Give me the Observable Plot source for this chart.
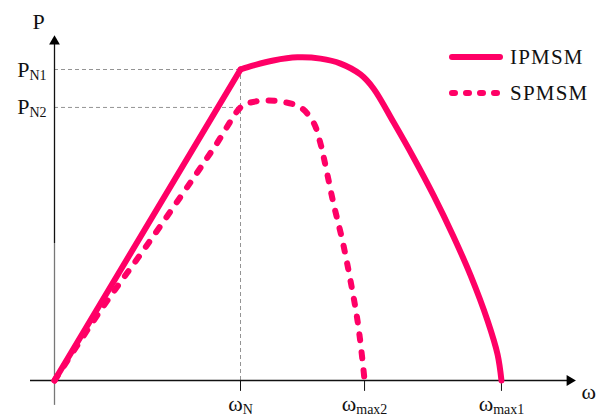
<!DOCTYPE html>
<html><head><meta charset="utf-8">
<script src="https://cdn.jsdelivr.net/npm/d3@7"></script>
<script src="https://cdn.jsdelivr.net/npm/@observablehq/plot@0.6"></script>
<style>body{margin:0;background:#fff}</style>
</head><body><div id="chart"></div>
<script>
// Speed ω (normalised, ωN = 1) and power P (normalised, PN1 = 1)
const ipmsmW = [0, 1, 1.070, 1.177, 1.306, 1.430, 1.538, 1.645, 1.715, 1.823, 1.930, 2.038, 2.145, 2.237, 2.328, 2.382, 2.403];
const ipmsmP = [0, 1, 1.013, 1.029, 1.039, 1.035, 1.019, 0.984, 0.939, 0.830, 0.717, 0.595, 0.463, 0.338, 0.193, 0.084, 0];
const spmsmW = [0, 0.247, 0.489, 0.731, 0.866, 1.0, 1.038, 1.124, 1.215, 1.323, 1.392, 1.430, 1.457, 1.500, 1.548, 1.591, 1.629, 1.656, 1.667];
const spmsmP = [0, 0.225, 0.428, 0.637, 0.756, 0.878, 0.891, 0.900, 0.897, 0.878, 0.830, 0.762, 0.691, 0.569, 0.450, 0.322, 0.193, 0.064, 0];
const seriesNames = ["IPMSM", "SPMSM"];
const xTickValues = [1, 1.667, 2.403];
const xTickLabels = ["ω_N", "ω_max2", "ω_max1"];
const yTickValues = [1, 0.878];
const yTickLabels = ["P_N1", "P_N2"];
const xAxisLabel = "ω";
const yAxisLabel = "P";

const color = "#ff0066";
const font = "'Liberation Serif', serif";
const xAxisMin = -0.129, xAxisMax = 2.77;
const yAxisMin = -0.08, yAxisMax = 1.09;
const tickLen = 0.035;

const ipmsm = ipmsmW.map((w, i) => ({w, p: ipmsmP[i]}));
const spmsm = spmsmW.map((w, i) => ({w, p: spmsmP[i]}));
const xTicks = xTickValues.map((v, i) => ({v, label: xTickLabels[i]}));
const yTicks = yTickValues.map((v, i) => ({v, label: yTickLabels[i]}));

const lineStyle = {x: "w", y: "p", stroke: color, strokeWidth: 6, strokeLinecap: "round", strokeLinejoin: "round"};

const chart = Plot.plot({
  width: 605, height: 416,
  marginTop: 0, marginRight: 0, marginBottom: 0, marginLeft: 0,
  style: {fontFamily: font, fontSize: "22px", background: "#fff", overflow: "visible"},
  x: {domain: [0, 1], range: [54, 240], axis: null},
  y: {domain: [0, 1], range: [380, 69], axis: null},
  marks: [
    // guide lines
    Plot.ruleY(yTicks, {y: "v", x1: 0, x2: xTickValues[0], stroke: "#888", strokeWidth: 0.9, strokeDasharray: "4,3"}),
    Plot.ruleX([xTickValues[0]], {y1: 0, y2: yTickValues[0], stroke: "#888", strokeWidth: 0.9, strokeDasharray: "4,3"}),
    // axes
    Plot.ruleY([0], {x1: xAxisMin, x2: xAxisMax, stroke: "#111", strokeWidth: 1.3}),
    Plot.ruleX([0], {y1: yAxisMin, y2: 0.44, stroke: "#777", strokeWidth: 1.3}),
    Plot.ruleX([0], {y1: 0.44, y2: yAxisMax, stroke: "#111", strokeWidth: 1.3}),
    Plot.dot([{x: xAxisMax, y: 0}], {x: "x", y: "y", symbol: "triangle", r: 4, fill: "#000", stroke: null, rotate: 90}),
    Plot.dot([{x: 0, y: yAxisMax}], {x: "x", y: "y", symbol: "triangle", r: 4, fill: "#000", stroke: null}),
    // x ticks
    Plot.ruleX(xTicks, {x: "v", y1: 0, y2: -tickLen, stroke: "#111", strokeWidth: 1}),
    // curves
    Plot.line(spmsm, {...lineStyle, curve: "catmull-rom", strokeDasharray: "6,12"}),
    Plot.line(ipmsm.slice(0, 2), lineStyle),
    Plot.line(ipmsm.slice(1), {...lineStyle, curve: "catmull-rom"}),
    // labels
    Plot.text(xTicks, {x: "v", y: 0, text: "label", dy: 23, fill: "#111"}),
    Plot.text(yTicks, {x: 0, y: "v", text: "label", dx: -8, textAnchor: "end", fill: "#111"}),
    Plot.text([xAxisLabel], {x: xAxisMax, y: 0, text: d => d, dx: 19, dy: 11, fill: "#111"}),
    Plot.text([yAxisLabel], {x: 0, y: yAxisMax, text: d => d, dx: -16, dy: -20, fill: "#111"})
  ]
});

// subscripts
d3.select(chart).selectAll("text").each(function() {
  const t = this.textContent;
  if (t.includes("_")) {
    const [base, sub] = t.split("_");
    const el = d3.select(this);
    el.text(null);
    el.append("tspan").text(base);
    el.append("tspan").attr("font-size", 14).attr("dy", 3).text(sub);
  }
});

// legend
const svg = d3.select(chart);
const lg = svg.append("g").attr("font-family", font).attr("font-size", 21).attr("fill", "#111").attr("text-anchor", "start");
seriesNames.forEach((name, i) => {
  const yy = 57 + i * 36;
  lg.append("line").attr("x1", 452).attr("x2", 500).attr("y1", yy).attr("y2", yy)
    .attr("stroke", color).attr("stroke-width", 6).attr("stroke-linecap", "round")
    .attr("stroke-dasharray", i === 1 ? "3,11" : null);
  lg.append("text").attr("x", 510).attr("y", yy).attr("dy", "0.35em").attr("letter-spacing", 1.2).text(name);
});

document.getElementById("chart").appendChild(chart);
</script>
</body></html>
